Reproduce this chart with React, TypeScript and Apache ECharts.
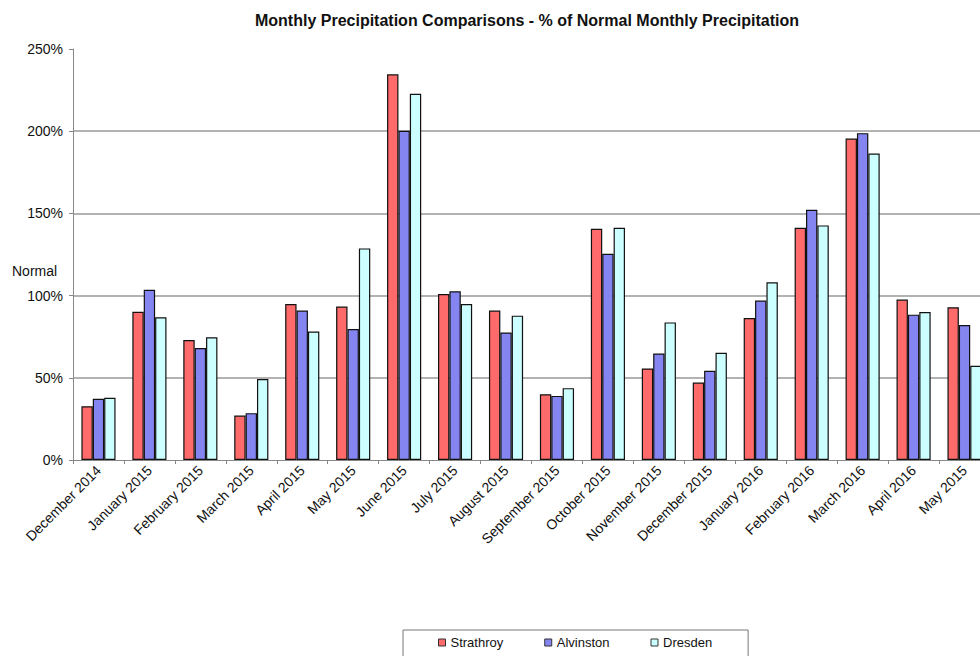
import React, { useEffect, useRef } from "react";
import * as echarts from "echarts";

const categories = [
  "December 2014", "January 2015", "February 2015", "March 2015", "April 2015",
  "May 2015", "June 2015", "July 2015", "August 2015", "September 2015",
  "October 2015", "November 2015", "December 2015", "January 2016",
  "February 2016", "March 2016", "April 2016", "May 2015",
];

const strathroy = [32.7, 90.2, 73.0, 27.0, 94.9, 93.3, 234.6, 101.0, 90.9, 40.0, 140.7, 55.7, 47.1, 86.4, 141.3, 195.5, 97.6, 92.9];
const alvinston = [37.2, 103.5, 68.1, 28.5, 90.9, 79.7, 200.2, 102.6, 77.6, 39.0, 125.4, 64.8, 54.3, 97.0, 152.2, 198.8, 88.4, 82.1];
const dresden = [37.8, 86.8, 74.6, 49.2, 78.2, 128.7, 222.8, 94.9, 87.8, 43.7, 141.3, 83.7, 65.2, 108.1, 142.7, 186.4, 90.0, 57.3];

const seriesNames = ["Strathroy", "Alvinston", "Dresden"];
const seriesColors = ["#FF6B6B", "#8585F2", "#CCFFFF"];
const yTicks = [0, 50, 100, 150, 200, 250];

const FONT = "'Liberation Sans', Arial, sans-serif";

export default function App() {
  const ref = useRef<HTMLDivElement>(null);
  useEffect(() => {
    if (!ref.current) return;
    const chart = echarts.init(ref.current, null, { renderer: "svg" });
    const data = [strathroy, alvinston, dresden];
    chart.setOption({
      animation: false,
      backgroundColor: "#ffffff",
      textStyle: { fontFamily: FONT },
      title: {
        text: "Monthly Precipitation Comparisons - % of Normal Monthly Precipitation",
        left: 522,
        textAlign: "center",
        top: 7,
        textStyle: { fontFamily: FONT, fontSize: 16, fontWeight: "bold", color: "#111" },
      },
      legend: {
        data: seriesNames,
        left: 403,
        top: 630,
        orient: "horizontal",
        icon: "rect",
        itemWidth: 7,
        itemHeight: 7,
        itemGap: 41,
        padding: [6, 36, 8, 35],
        borderColor: "#777",
        borderWidth: 1,
        itemStyle: { borderColor: "#333", borderWidth: 1 },
        textStyle: { fontFamily: FONT, fontSize: 13, color: "#111" },
      },
      graphic: [
        {
          type: "text",
          left: 12,
          top: 264,
          style: {
            text: "Normal",
            font: `14px ${FONT}`,
            fill: "#111",
          },
        },
      ],
      grid: { left: 73, right: 0, top: 49, bottom: 196, containLabel: false },
      xAxis: {
        type: "category",
        data: categories,
        boundaryGap: true,
        axisLine: { show: true, lineStyle: { color: "#888", width: 1 } },
        axisTick: { show: true, alignWithLabel: false, length: 4, lineStyle: { color: "#888" } },
        axisLabel: {
          interval: 0,
          rotate: 45,
          margin: 8,
          fontFamily: FONT,
          fontSize: 14,
          color: "#111",
        },
        splitLine: { show: false },
      },
      yAxis: {
        type: "value",
        min: yTicks[0],
        max: yTicks[yTicks.length - 1],
        interval: 50,
        axisLine: { show: true, lineStyle: { color: "#888", width: 1 } },
        axisTick: { show: true, length: 4, lineStyle: { color: "#888" } },
        axisLabel: {
          formatter: "{value}%",
          margin: 10,
          fontFamily: FONT,
          fontSize: 14,
          color: "#111",
        },
        splitLine: {
          show: true,
          lineStyle: {
            color: ["rgba(0,0,0,0)", "#999", "#999", "#999", "#999", "rgba(0,0,0,0)"],
            width: 1.5,
          },
        },
      },
      series: seriesNames.map((name, i) => ({
        name,
        type: "bar",
        data: data[i],
        barGap: "0%",
        barCategoryGap: "33%",
        itemStyle: { color: seriesColors[i], borderColor: "#111", borderWidth: 1.2 },
      })),
    });
    return () => chart.dispose();
  }, []);
  return (
    <div
      style={{
        position: "fixed",
        left: 0,
        top: 0,
        width: 980,
        height: 656,
        overflow: "hidden",
        background: "#fff",
      }}
    >
      <div ref={ref} style={{ width: 990, height: 656 }} />
    </div>
  );
}
